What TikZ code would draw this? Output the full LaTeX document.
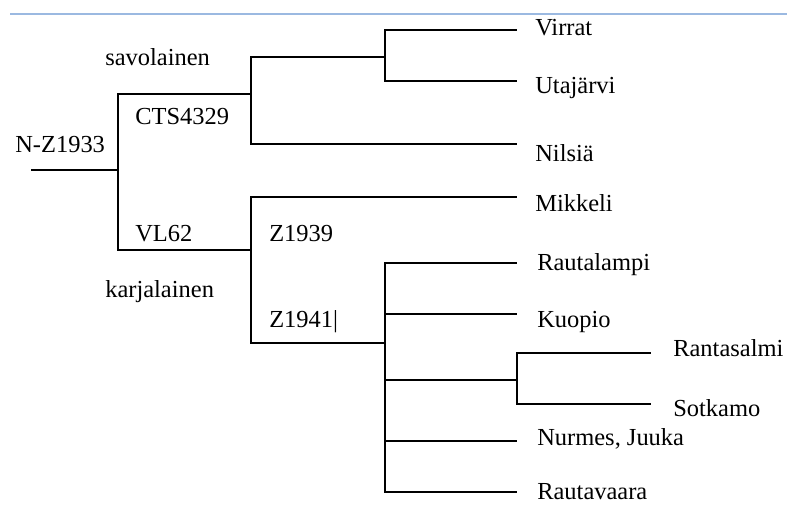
\documentclass[tikz,border=0pt]{standalone}
\usepackage{fontspec}
\setmainfont{Liberation Serif}
\usepackage{tikz}
\definecolor{rulecol}{RGB}{155,185,225}

\begin{document}
\begin{tikzpicture}[x=0.025cm, y=-0.025cm,
	lbl/.style={anchor=base west, inner sep=0pt, font=\fontsize{17.4}{21}\selectfont},
	ast/.style={line width=1.1pt}
	]
	\useasboundingbox (0,0) rectangle (797,505);
	\coordinate (ruleL) at (10,14);
	\coordinate (ruleR) at (787,14);
	\draw[rulecol, line width=0.8pt] (ruleL) -- (ruleR);

	% junctions
	\coordinate (start) at (31,170);
	\coordinate (nz) at (118,170);
	\coordinate (cts) at (251,94);
	\coordinate (vl) at (251,250);
	\coordinate (vu) at (385,57);
	\coordinate (z41) at (385,343);
	\coordinate (rs) at (517,380);

	% leaves
	\coordinate (virrat) at (517,30);
	\coordinate (utaj) at (517,81);
	\coordinate (nilsia) at (517,144);
	\coordinate (mikkeli) at (517,197);
	\coordinate (rautal) at (517,263);
	\coordinate (kuopio) at (517,314);
	\coordinate (ranta) at (651,353);
	\coordinate (sotk) at (651,404);
	\coordinate (nurmes) at (517,441);
	\coordinate (rautav) at (517,492);

	\draw[ast] (start) -- (nz);
	\draw[ast] (nz) |- (cts);
	\draw[ast] (nz) |- (vl);
	\draw[ast] (cts) |- (vu);
	\draw[ast] (cts) |- (nilsia);
	\draw[ast] (vu) |- (virrat);
	\draw[ast] (vu) |- (utaj);
	\draw[ast] (vl) |- (mikkeli);
	\draw[ast] (vl) |- (z41);
	\draw[ast] (z41) |- (rautal);
	\draw[ast] (z41) |- (kuopio);
	\draw[ast] (z41) |- (rs);
	\draw[ast] (z41) |- (nurmes);
	\draw[ast] (z41) |- (rautav);
	\draw[ast] (rs) |- (ranta);
	\draw[ast] (rs) |- (sotk);

	% branch labels
	\node[lbl] (savo) at (105,66) {savolainen};
	\node[lbl] (ctsl) at (135,125) {CTS4329};
	\node[lbl] (nzl) at (15,153) {N-Z1933};
	\node[lbl] (vll) at (135,242) {VL62};
	\node[lbl] (z39l) at (269,242) {Z1939};
	\node[lbl] (karj) at (105,298) {karjalainen};
	\node[lbl] (z41l) at (269,328) {Z1941|};

	% place labels
	\node[lbl] (lvirrat) at (535,36) {Virrat};
	\node[lbl] (lutaj) at (535,94) {Utajärvi};
	\node[lbl] (lnilsia) at (535,162) {Nilsiä};
	\node[lbl] (lmikkeli) at (535,212) {Mikkeli};
	\node[lbl] (lrautal) at (537,271) {Rautalampi};
	\node[lbl] (lkuopio) at (537,328) {Kuopio};
	\node[lbl] (lranta) at (673,357) {Rantasalmi};
	\node[lbl] (lsotk) at (673,416) {Sotkamo};
	\node[lbl] (lnurmes) at (537,445) {Nurmes, Juuka};
	\node[lbl] (lrautav) at (537,499) {Rautavaara};
\end{tikzpicture}
\end{document}
